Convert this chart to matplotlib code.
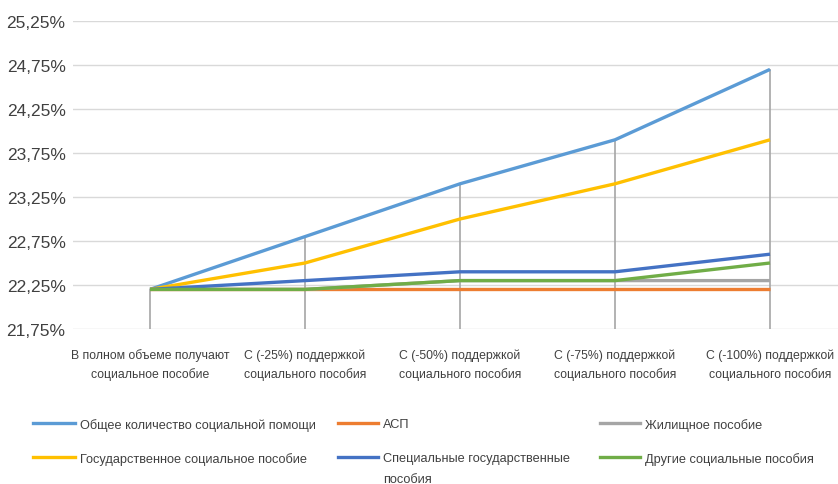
import matplotlib.pyplot as plt
from matplotlib.lines import Line2D
import numpy as np

plt.rcParams['font.family'] = ['Liberation Sans', 'DejaVu Sans']

categories = [
    "В полном объеме получают\nсоциальное пособие",
    "С (-25%) поддержкой\nсоциального пособия",
    "С (-50%) поддержкой\nсоциального пособия",
    "С (-75%) поддержкой\nсоциального пособия",
    "С (-100%) поддержкой\nсоциального пособия",
]
series_names = [
    "Общее количество социальной помощи",
    "АСП",
    "Жилищное пособие",
    "Государственное социальное пособие",
    "Специальные государственные\nпособия",
    "Другие социальные пособия",
]
total_help = [22.2, 22.8, 23.4, 23.9, 24.7]
asp = [22.2, 22.2, 22.2, 22.2, 22.2]
housing = [22.2, 22.2, 22.3, 22.3, 22.3]
state_benefit = [22.2, 22.5, 23.0, 23.4, 23.9]
special_benefit = [22.2, 22.3, 22.4, 22.4, 22.6]
other_benefit = [22.2, 22.2, 22.3, 22.3, 22.5]
y_ticks = [21.75, 22.25, 22.75, 23.25, 23.75, 24.25, 24.75, 25.25]

colors = ["#5B9BD5", "#ED7D31", "#A5A5A5", "#FFC000", "#4472C4", "#70AD47"]
all_series = [total_help, asp, housing, state_benefit, special_benefit, other_benefit]

W, H = 838, 485
fig = plt.figure(figsize=(W / 100, H / 100), dpi=100)
ax = fig.add_axes([72.5 / W, 1 - 330 / H, (W - 72.5) / W, (330 - 22) / H])

x = np.arange(len(categories))
ax.set_xlim(-0.5, (W - 150) / 155)
ax.set_ylim(y_ticks[0], y_ticks[-1])

# drop lines to the highest series
top = np.max(np.array(all_series), axis=0)
ax.vlines(x, y_ticks[0], top, color="#A6A6A6", linewidth=1.2, zorder=1)

for vals, col in zip(all_series, colors):
    ax.plot(x, vals, color=col, linewidth=2.4, solid_capstyle="butt", zorder=3)

ax.set_yticks(y_ticks)
ax.set_yticklabels([f"{v:.2f}%".replace(".", ",") for v in y_ticks], fontsize=12.5, color="#404040")
ax.yaxis.grid(True, color="#D9D9D9", linewidth=1)
ax.set_axisbelow(True)
ax.set_xticks(x)
ax.set_xticklabels(categories, fontsize=8.8, color="#404040", linespacing=1.6)
ax.tick_params(length=0)
ax.tick_params(axis="x", pad=14)
ax.tick_params(axis="y", pad=5)
for s in ax.spines.values():
    s.set_visible(False)

# legend, drawn by hand to match column positions
leg_x = [(33, 80), (338, 383), (600, 645)]
leg_y = [425, 459]
for i, (name, col) in enumerate(zip(series_names, colors)):
    r, c = divmod(i, 3)
    hx, tx = leg_x[c]
    y = leg_y[r]
    fig.add_artist(Line2D([hx / W, (tx - 5) / W], [1 - (y - 1) / H, 1 - (y - 1) / H],
                          color=col, linewidth=2.4, transform=fig.transFigure))
    fig.text(tx / W, 1 - (y - 6) / H, name, fontsize=9.2, color="#404040",
             va="top", ha="left", linespacing=1.95)

fig.savefig("out.png", dpi=100)
